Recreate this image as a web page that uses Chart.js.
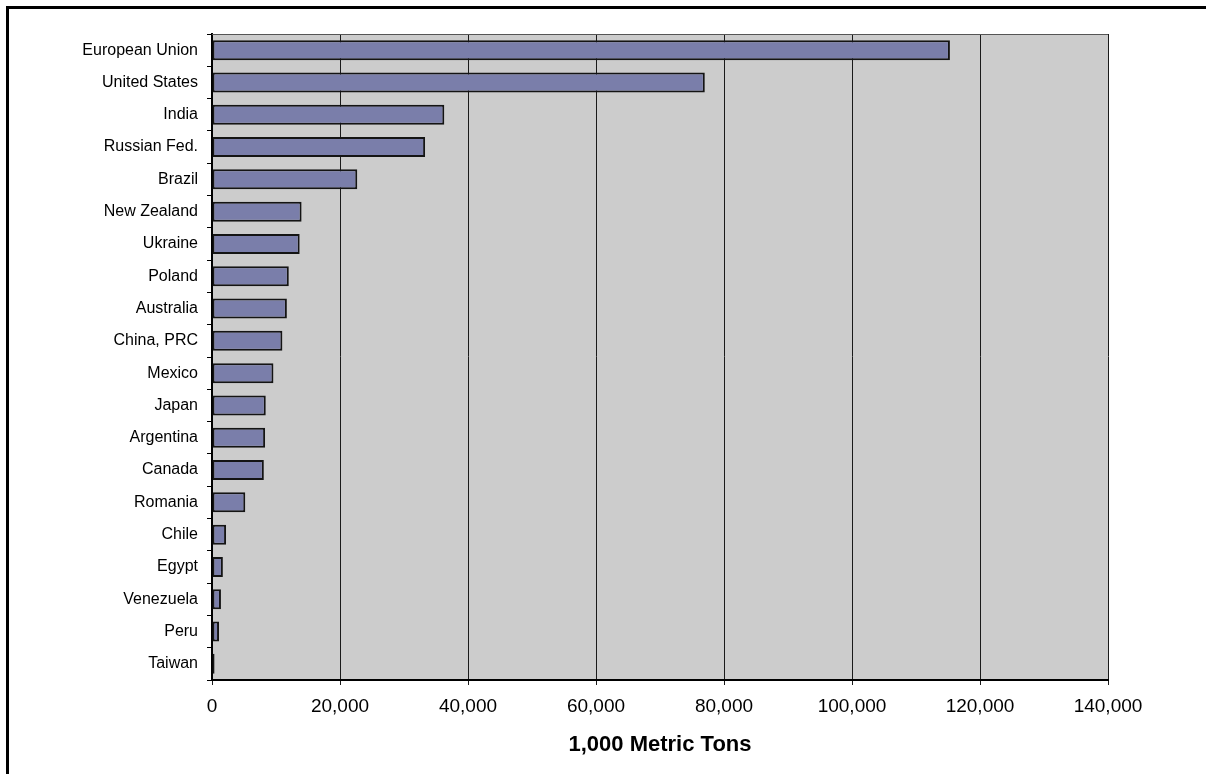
<!DOCTYPE html>
<html>
<head>
<meta charset="utf-8">
<title>1,000 Metric Tons</title>
<script src="https://cdn.jsdelivr.net/npm/chart.js@4"></script>
<style>
  body { margin: 0; background: #fff; }
  #wrap { position: relative; width: 1206px; height: 774px; overflow: hidden; }
  #frame { position: absolute; left: 6px; top: 6px; width: 1300px; height: 900px; border-top: 3px solid #000; border-left: 3px solid #000; pointer-events: none; }
</style>
</head>
<body>
<div id="wrap">
  <canvas id="milkChart" width="1206" height="774"></canvas>
  <div id="frame"></div>
</div>
<script>
// Países (de arriba hacia abajo)
const countries = [
  "European Union", "United States", "India", "Russian Fed.", "Brazil",
  "New Zealand", "Ukraine", "Poland", "Australia", "China, PRC",
  "Mexico", "Japan", "Argentina", "Canada", "Romania",
  "Chile", "Egypt", "Venezuela", "Peru", "Taiwan"
];

// Producción en 1,000 toneladas métricas
const production = [
  115300, 77000, 36300, 33300, 22700,
  14000, 13700, 12000, 11700, 11000,
  9600, 8400, 8300, 8100, 5200,
  2200, 1700, 1400, 1100, 400
];

// Marcas del eje X
const xTicks = [0, 20000, 40000, 60000, 80000, 100000, 120000, 140000];
const xTitle = "1,000 Metric Tons";

// Fondo gris y borde superior del área del gráfico
const plotBackground = {
  id: 'plotBackground',
  beforeDraw(chart) {
    const { ctx, chartArea: a } = chart;
    ctx.save();
    ctx.fillStyle = '#cccccc';
    ctx.fillRect(a.left, a.top, a.right - a.left, a.bottom - a.top);
    ctx.restore();
  },
  afterDraw(chart) {
    const { ctx, chartArea: a } = chart;
    ctx.save();
    ctx.strokeStyle = '#555';
    ctx.lineWidth = 1;
    ctx.beginPath();
    ctx.moveTo(a.left, a.top + 0.5);
    ctx.lineTo(a.right, a.top + 0.5);
    ctx.stroke();
    ctx.restore();
  }
};

const ctx = document.getElementById('milkChart').getContext('2d');

new Chart(ctx, {
  type: 'bar',
  data: {
    labels: countries,
    datasets: [{
      data: production,
      backgroundColor: '#7a7eaa',
      borderColor: '#141414',
      borderWidth: 2,
      borderSkipped: false,
      barPercentage: 0.62,
      categoryPercentage: 1
    }]
  },
  options: {
    indexAxis: 'y',
    responsive: false,
    animation: false,
    devicePixelRatio: 1,
    layout: { padding: { top: 34, right: 98, left: 0, bottom: 0 } },
    plugins: {
      legend: { display: false },
      tooltip: { enabled: false }
    },
    scales: {
      x: {
        min: 0,
        max: 140000,
        afterBuildTicks(scale) {
          scale.ticks = xTicks.map(v => ({ value: v }));
        },
        afterFit(scale) { scale.height = 94; },
        grid: {
          color: '#1a1a1a',
          lineWidth: 1,
          tickLength: 5,
          drawOnChartArea: true
        },
        border: { display: true, color: '#000', width: 2 },
        ticks: {
          color: '#000',
          padding: 10,
          maxRotation: 0,
          font: { family: '"Liberation Sans", Arial, sans-serif', size: 19 },
          callback: v => v.toLocaleString('en-US')
        },
        title: {
          display: true,
          text: xTitle,
          color: '#000',
          padding: { top: 0, bottom: 16 },
          font: { family: '"Liberation Sans", Arial, sans-serif', size: 22, weight: 'bold' }
        }
      },
      y: {
        afterFit(scale) { scale.width = 212; },
        grid: {
          offset: true,
          drawOnChartArea: false,
          color: '#000',
          tickLength: 5
        },
        border: { display: true, color: '#000', width: 2 },
        ticks: {
          color: '#000',
          padding: 9,
          autoSkip: false,
          font: { family: '"Liberation Sans", Arial, sans-serif', size: 16 }
        }
      }
    }
  },
  plugins: [plotBackground]
});
</script>
</body>
</html>
